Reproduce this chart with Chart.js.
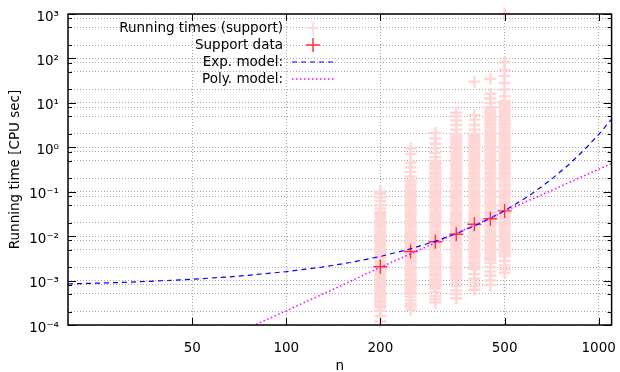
<!DOCTYPE html>
<html>
<head>
<meta charset="utf-8">
<script src="https://cdn.jsdelivr.net/npm/chart.js@4.4.1/dist/chart.umd.min.js"></script>
<style>
  html, body { margin: 0; padding: 0; background: #fff; }
  #wrap { width: 620px; height: 372px; }
</style>
</head>
<body>
<div id="wrap"><canvas id="chart"></canvas></div>
<script>
// problem sizes n
const sizes = [200, 250, 300, 350, 400, 450, 500];

// single running times (CPU sec), one list per n
const run200 = [1.2e-4, 1.6e-4, 2.1e-4,
  2.5e-4, 2.8e-4, 3.2e-4, 3.5e-4, 4e-4, 4.5e-4, 5e-4, 5.6e-4, 6.3e-4, 7.1e-4, 8e-4, 9e-4,
  1e-3, 1.1e-3, 1.25e-3, 1.4e-3, 1.6e-3, 1.8e-3, 2e-3, 2.2e-3, 2.5e-3, 2.8e-3, 3.2e-3, 3.5e-3, 4e-3, 4.5e-3, 5e-3, 5.6e-3, 6.3e-3, 7.1e-3, 8e-3, 9e-3,
  0.01, 0.011, 0.0125, 0.014, 0.016, 0.018, 0.02, 0.022, 0.025, 0.028, 0.032, 0.035,
  0.042, 0.05, 0.062, 0.075, 0.09, 0.1];
const run250 = [2.2e-4, 2.6e-4, 3e-4, 3.6e-4,
  4.3e-4, 5e-4, 5.6e-4, 6.3e-4, 7.1e-4, 8e-4, 9e-4,
  1e-3, 1.1e-3, 1.25e-3, 1.4e-3, 1.6e-3, 1.8e-3, 2e-3, 2.2e-3, 2.5e-3, 2.8e-3, 3.2e-3, 3.5e-3, 4e-3, 4.5e-3, 5e-3, 5.6e-3, 6.3e-3, 7.1e-3, 8e-3, 9e-3,
  0.01, 0.011, 0.0125, 0.014, 0.016, 0.018, 0.02, 0.022, 0.025, 0.028, 0.032, 0.035, 0.04, 0.045, 0.05, 0.056, 0.063, 0.071, 0.08, 0.09,
  0.1, 0.11, 0.125, 0.14, 0.16, 0.18,
  0.22, 0.28, 0.35, 0.45, 0.7, 0.95];
const run300 = [3.2e-4, 3.8e-4, 4.5e-4, 5.5e-4, 6.5e-4,
  7.1e-4, 8e-4, 9e-4,
  1e-3, 1.1e-3, 1.25e-3, 1.4e-3, 1.6e-3, 1.8e-3, 2e-3, 2.2e-3, 2.5e-3, 2.8e-3, 3.2e-3, 3.5e-3, 4e-3, 4.5e-3, 5e-3, 5.6e-3, 6.3e-3, 7.1e-3, 8e-3, 9e-3,
  0.01, 0.011, 0.0125, 0.014, 0.016, 0.018, 0.02, 0.022, 0.025, 0.028, 0.032, 0.035, 0.04, 0.045, 0.05, 0.056, 0.063, 0.071, 0.08, 0.09,
  0.1, 0.11, 0.125, 0.14, 0.16, 0.18, 0.2, 0.22, 0.25, 0.28, 0.32, 0.35, 0.4, 0.45, 0.5,
  0.6, 0.75, 0.95, 1.2, 1.6, 2.1];
const run350 = [4e-4, 5e-4, 6e-4, 7.5e-4, 9e-4,
  1.1e-3, 1.25e-3, 1.4e-3, 1.6e-3, 1.8e-3, 2e-3, 2.2e-3, 2.5e-3, 2.8e-3, 3.2e-3, 3.5e-3, 4e-3, 4.5e-3, 5e-3, 5.6e-3, 6.3e-3, 7.1e-3, 8e-3, 9e-3,
  0.01, 0.011, 0.0125, 0.014, 0.016, 0.018, 0.02, 0.022, 0.025, 0.028, 0.032, 0.035, 0.04, 0.045, 0.05, 0.056, 0.063, 0.071, 0.08, 0.09,
  0.1, 0.11, 0.125, 0.14, 0.16, 0.18, 0.2, 0.22, 0.25, 0.28, 0.32, 0.35, 0.4, 0.45, 0.5, 0.56, 0.63, 0.71, 0.8, 0.9,
  1, 1.1, 1.25, 1.4, 1.6, 1.8, 2,
  2.5, 3.2, 4, 5, 6];
const run400 = [6.2e-4, 7.5e-4, 9e-4, 1.1e-3, 1.4e-3,
  1.8e-3, 2e-3, 2.2e-3, 2.5e-3, 2.8e-3, 3.2e-3, 3.5e-3, 4e-3, 4.5e-3, 5e-3, 5.6e-3, 6.3e-3, 7.1e-3, 8e-3, 9e-3,
  0.01, 0.011, 0.0125, 0.014, 0.016, 0.018, 0.02, 0.022, 0.025, 0.028, 0.032, 0.035, 0.04, 0.045, 0.05, 0.056, 0.063, 0.071, 0.08, 0.09,
  0.1, 0.11, 0.125, 0.14, 0.16, 0.18, 0.2, 0.22, 0.25, 0.28, 0.32, 0.35, 0.4, 0.45, 0.5, 0.56, 0.63, 0.71, 0.8, 0.9,
  1, 1.1, 1.25, 1.4, 1.6, 1.8, 2,
  2.5, 3.2, 4.2, 5.3, 30];
const run450 = [8e-4, 1e-3, 1.3e-3, 1.6e-3, 2e-3, 2.5e-3,
  2.9e-3, 3.2e-3, 3.5e-3, 4e-3, 4.5e-3, 5e-3, 5.6e-3, 6.3e-3, 7.1e-3, 8e-3, 9e-3,
  0.01, 0.011, 0.0125, 0.014, 0.016, 0.018, 0.02, 0.022, 0.025, 0.028, 0.032, 0.035, 0.04, 0.045, 0.05, 0.056, 0.063, 0.071, 0.08, 0.09,
  0.1, 0.11, 0.125, 0.14, 0.16, 0.18, 0.2, 0.22, 0.25, 0.28, 0.32, 0.35, 0.4, 0.45, 0.5, 0.56, 0.63, 0.71, 0.8, 0.9,
  1, 1.1, 1.25, 1.4, 1.6, 1.8, 2, 2.2, 2.5, 2.8, 3.2, 3.5, 4, 4.5, 5, 5.6, 6.3, 7.1, 8,
  10, 12.5, 16, 35];
const run500 = [1.5e-3, 1.8e-3, 2.2e-3, 2.8e-3, 3.5e-3,
  4e-3, 4.5e-3, 5e-3, 5.6e-3, 6.3e-3, 7.1e-3, 8e-3, 9e-3,
  0.01, 0.011, 0.0125, 0.014, 0.016, 0.018, 0.02, 0.022, 0.025, 0.028, 0.032, 0.035, 0.04, 0.045, 0.05, 0.056, 0.063, 0.071, 0.08, 0.09,
  0.1, 0.11, 0.125, 0.14, 0.16, 0.18, 0.2, 0.22, 0.25, 0.28, 0.32, 0.35, 0.4, 0.45, 0.5, 0.56, 0.63, 0.71, 0.8, 0.9,
  1, 1.1, 1.25, 1.4, 1.6, 1.8, 2, 2.2, 2.5, 2.8, 3.2, 3.5, 4, 4.5, 5, 5.6, 6.3, 7.1, 8, 9,
  10, 11, 14, 20, 28, 40, 55, 83, 1000];

// support data, one per n
const supportTimes = [2.05e-3, 4.5e-3, 7.5e-3, 0.011, 0.0185, 0.0247, 0.037];

// model curves
const expN = [20, 30, 40, 50, 70, 100, 130, 160, 200, 250, 300, 350, 400, 450, 500, 600, 700, 800, 900, 1000, 1100];
const expTimes = [8.4e-4, 9.1e-4, 9.9e-4, 1.07e-3, 1.25e-3, 1.59e-3, 2.01e-3, 2.55e-3, 3.49e-3, 5.19e-3, 7.7e-3,
  0.0114, 0.017, 0.0252, 0.0374, 0.082, 0.181, 0.40, 0.88, 1.94, 4.28];
const polyN = [78, 100, 150, 200, 300, 400, 500, 700, 900, 1100];
const polyTimes = [9.5e-5, 2.1e-4, 7.7e-4, 2.0e-3, 7.06e-3, 0.0177, 0.0362, 0.104, 0.23, 0.43];

// ticks
const xTicks = [50, 100, 200, 500, 1000];
const yTicks = [1e-4, 2e-4, 5e-4, 8e-4, 1e-3, 2e-3, 5e-3, 8e-3, 1e-2, 2e-2, 5e-2, 8e-2,
  0.1, 0.2, 0.5, 0.8, 1, 2, 5, 8, 10, 20, 50, 80, 100, 200, 500, 800, 1000];

const runLists = [run200, run250, run300, run350, run400, run450, run500];
const runPoints = runLists.flatMap((list, k) => list.map(t => ({x: sizes[k], y: t})));
const supportPoints = sizes.map((n, k) => ({x: n, y: supportTimes[k]}));
const expPoints = expN.map((n, k) => ({x: n, y: expTimes[k]}));
const polyPoints = polyN.map((n, k) => ({x: n, y: polyTimes[k]}));

const FONT = '"DejaVu Sans", sans-serif';
const FSIZE = 13.5;
const SUP = {'0':'⁰','1':'¹','2':'²','3':'³','4':'⁴','5':'⁵','6':'⁶','7':'⁷','8':'⁸','9':'⁹','-':'⁻'};

function isPow10(v) {
  const l = Math.log10(v);
  return Math.abs(l - Math.round(l)) < 1e-9;
}
function powLabel(v) {
  const e = String(Math.round(Math.log10(v)));
  return '10' + e.split('').map(c => SUP[c]).join('');
}

// gnuplot style box with inward tics
const frame = {
  id: 'frame',
  afterDatasetsDraw(chart) {
    const {ctx, chartArea: a, scales} = chart;
    ctx.save();
    ctx.strokeStyle = '#000';
    ctx.lineWidth = 1;
    ctx.beginPath();
    yTicks.forEach(v => {
      const py = Math.round(scales.y.getPixelForValue(v)) + 0.5;
      const len = isPow10(v) ? 8 : 4;
      ctx.moveTo(a.left, py); ctx.lineTo(a.left + len, py);
      ctx.moveTo(a.right, py); ctx.lineTo(a.right - len, py);
    });
    xTicks.forEach(v => {
      const px = Math.round(scales.x.getPixelForValue(v)) + 0.5;
      ctx.moveTo(px, a.bottom); ctx.lineTo(px, a.bottom - 7);
      ctx.moveTo(px, a.top); ctx.lineTo(px, a.top + 7);
    });
    ctx.stroke();
    ctx.lineWidth = 1.5;
    ctx.strokeRect(a.left, a.top, a.right - a.left, a.bottom - a.top);
    ctx.restore();
  },
  afterDraw(chart) {
    // key, text left of the sample
    const ctx = chart.ctx;
    const textRight = 283, x1 = 292, x2 = 334, y0 = 28, dy = 17;
    ctx.save();
    ctx.font = FSIZE + 'px ' + FONT;
    ctx.textAlign = 'right';
    ctx.textBaseline = 'middle';
    chart.data.datasets.forEach((ds, i) => {
      const y = y0 + i * dy;
      ctx.fillStyle = '#000';
      ctx.fillText(ds.label, textRight, y);
      ctx.strokeStyle = ds.borderColor;
      if (ds.showLine) {
        ctx.lineWidth = ds.borderWidth;
        ctx.setLineDash(ds.borderDash);
        ctx.beginPath(); ctx.moveTo(x1, y); ctx.lineTo(x2, y); ctx.stroke();
        ctx.setLineDash([]);
      } else {
        const cx = (x1 + x2) / 2, r = ds.pointRadius;
        ctx.lineWidth = 1.5;
        ctx.beginPath();
        ctx.moveTo(cx - r, y); ctx.lineTo(cx + r, y);
        ctx.moveTo(cx, y - r); ctx.lineTo(cx, y + r);
        ctx.stroke();
      }
    });
    ctx.restore();
  }
};

new Chart(document.getElementById('chart'), {
  type: 'scatter',
  data: {
    datasets: [
      {
        label: 'Running times (support)',
        data: runPoints,
        pointStyle: 'cross',
        pointRadius: 6,
        pointBorderWidth: 2.4,
        borderColor: 'rgb(255,214,214)',
        backgroundColor: 'rgb(255,214,214)',
        order: 4,
        clip: false
      },
      {
        label: 'Support data',
        data: supportPoints,
        pointStyle: 'cross',
        pointRadius: 7,
        pointBorderWidth: 1.4,
        borderColor: 'rgba(255,20,20,0.85)',
        backgroundColor: 'rgba(255,20,20,0.85)',
        order: 3
      },
      {
        label: 'Exp. model:',
        data: expPoints,
        showLine: true,
        pointRadius: 0,
        borderColor: '#0000ff',
        borderWidth: 1.2,
        borderDash: [5, 4],
        order: 2
      },
      {
        label: 'Poly. model:',
        data: polyPoints,
        showLine: true,
        pointRadius: 0,
        borderColor: '#ff00ff',
        borderWidth: 1.5,
        borderDash: [1.5, 2.5],
        order: 1
      }
    ]
  },
  options: {
    responsive: true,
    maintainAspectRatio: false,
    animation: false,
    events: [],
    layout: { padding: { top: 14, right: 8, left: 0, bottom: 0 } },
    plugins: { legend: { display: false }, tooltip: { enabled: false } },
    scales: {
      x: {
        type: 'logarithmic',
        min: 20,
        max: 1100,
        afterFit: s => { s.height = 47; s.paddingLeft = 0; s.paddingRight = 0; },
        afterBuildTicks: s => { s.ticks = xTicks.map(v => ({value: v})); },
        ticks: {
          autoSkip: false, maxRotation: 0, padding: 15, color: '#000',
          font: { family: FONT, size: FSIZE },
          callback: v => String(v)
        },
        grid: { color: '#a8a8a8', lineWidth: 1, drawTicks: false },
        border: { display: false, dash: [1, 2] },
        title: { display: true, text: 'n', color: '#000', font: { family: FONT, size: FSIZE }, padding: { top: 0, bottom: -3 } }
      },
      y: {
        type: 'logarithmic',
        min: 1e-4,
        max: 1e3,
        afterFit: s => { s.width = 68; s.paddingTop = 0; s.paddingBottom = 0; },
        afterBuildTicks: s => { s.ticks = yTicks.map(v => ({value: v})); },
        ticks: {
          autoSkip: false, padding: 9, color: '#000', labelOffset: 3,
          font: { family: FONT, size: FSIZE },
          callback: v => isPow10(v) ? powLabel(v) : ''
        },
        grid: { color: '#a8a8a8', lineWidth: 1, drawTicks: false },
        border: { display: false, dash: [1, 2] },
        title: { display: true, text: 'Running time [CPU sec]', color: '#000', font: { family: FONT, size: FSIZE }, padding: { top: 7, bottom: 0 } }
      }
    }
  },
  plugins: [frame]
});
</script>
</body>
</html>
